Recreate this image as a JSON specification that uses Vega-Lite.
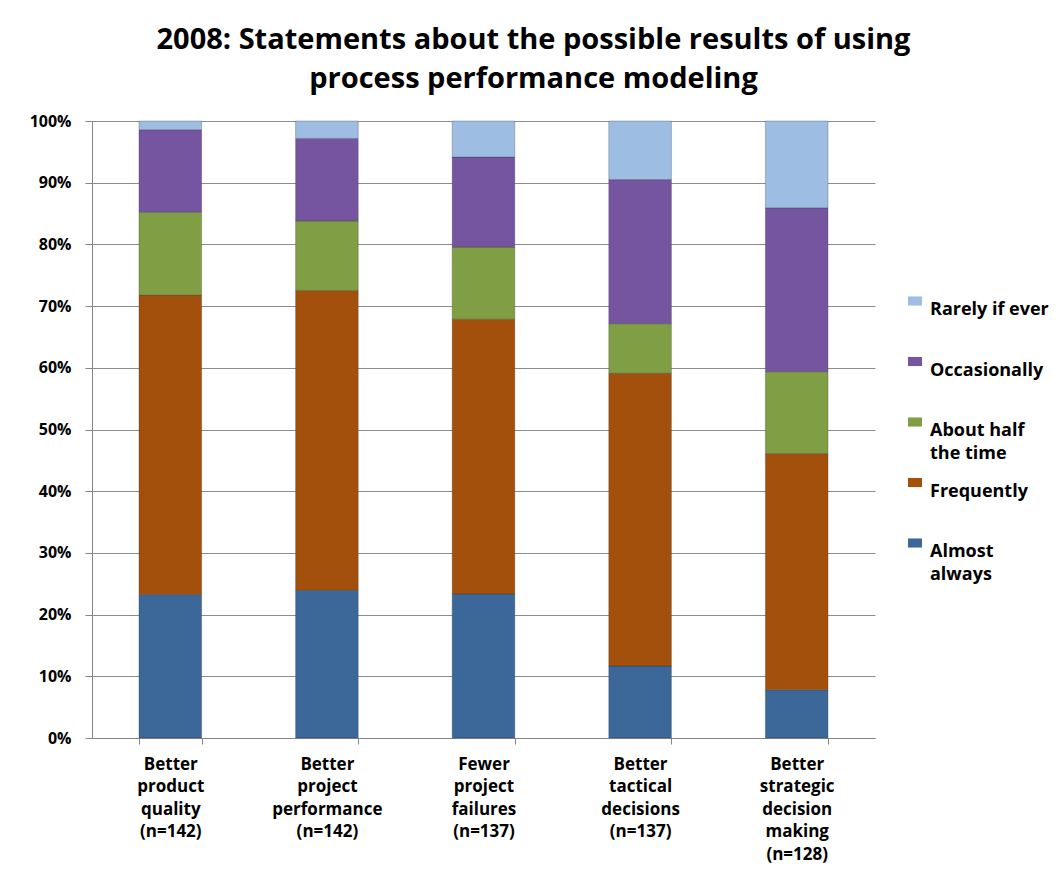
{
  "$schema": "https://vega.github.io/schema/vega-lite/v6.json",
  "width": 783,
  "height": 617,
  "autosize": {"type": "none"},
  "padding": {"left": 92, "top": 121, "right": 189, "bottom": 144},
  "background": "white",
  "title": {
    "text": ["2008: Statements about the possible results of using", "process performance modeling"],
    "font": "Open Sans",
    "fontSize": 29,
    "fontWeight": "bold",
    "color": "#000000",
    "anchor": "middle",
    "frame": "group",
    "dx": 50,
    "offset": 19,
    "lineHeight": 39
  },
  "data": {
    "values": [
      {"statement": "Better|product|quality|(n=142)", "response": "Almost always", "count": 33},
      {"statement": "Better|product|quality|(n=142)", "response": "Frequently", "count": 69},
      {"statement": "Better|product|quality|(n=142)", "response": "About half the time", "count": 19},
      {"statement": "Better|product|quality|(n=142)", "response": "Occasionally", "count": 19},
      {"statement": "Better|product|quality|(n=142)", "response": "Rarely if ever", "count": 2},
      {"statement": "Better|project|performance|(n=142)", "response": "Almost always", "count": 34},
      {"statement": "Better|project|performance|(n=142)", "response": "Frequently", "count": 69},
      {"statement": "Better|project|performance|(n=142)", "response": "About half the time", "count": 16},
      {"statement": "Better|project|performance|(n=142)", "response": "Occasionally", "count": 19},
      {"statement": "Better|project|performance|(n=142)", "response": "Rarely if ever", "count": 4},
      {"statement": "Fewer|project|failures|(n=137)", "response": "Almost always", "count": 32},
      {"statement": "Fewer|project|failures|(n=137)", "response": "Frequently", "count": 61},
      {"statement": "Fewer|project|failures|(n=137)", "response": "About half the time", "count": 16},
      {"statement": "Fewer|project|failures|(n=137)", "response": "Occasionally", "count": 20},
      {"statement": "Fewer|project|failures|(n=137)", "response": "Rarely if ever", "count": 8},
      {"statement": "Better|tactical|decisions|(n=137)", "response": "Almost always", "count": 16},
      {"statement": "Better|tactical|decisions|(n=137)", "response": "Frequently", "count": 65},
      {"statement": "Better|tactical|decisions|(n=137)", "response": "About half the time", "count": 11},
      {"statement": "Better|tactical|decisions|(n=137)", "response": "Occasionally", "count": 32},
      {"statement": "Better|tactical|decisions|(n=137)", "response": "Rarely if ever", "count": 13},
      {"statement": "Better|strategic|decision|making|(n=128)", "response": "Almost always", "count": 10},
      {"statement": "Better|strategic|decision|making|(n=128)", "response": "Frequently", "count": 49},
      {"statement": "Better|strategic|decision|making|(n=128)", "response": "About half the time", "count": 17},
      {"statement": "Better|strategic|decision|making|(n=128)", "response": "Occasionally", "count": 34},
      {"statement": "Better|strategic|decision|making|(n=128)", "response": "Rarely if ever", "count": 18}
    ]
  },
  "transform": [
    {"calculate": "indexof(['Almost always', 'Frequently', 'About half the time', 'Occasionally', 'Rarely if ever'], datum.response)", "as": "stackRank"}
  ],
  "mark": {"type": "bar", "stroke": "#2b2b2b", "strokeWidth": 0.6, "strokeOpacity": 0.45},
  "encoding": {
    "x": {
      "field": "statement",
      "type": "nominal",
      "sort": null,
      "scale": {"paddingInner": 0.6, "paddingOuter": 0.3},
      "axis": {
        "title": null,
        "labelAngle": 0,
        "labelExpr": "datum.value ? split(datum.value, '|') : ''",
        "labelFont": "Open Sans",
        "labelFontSize": 17,
        "labelFontWeight": "bold",
        "labelColor": "#000000",
        "labelLineHeight": 22.5,
        "labelBaseline": "top",
        "labelPadding": 12,
        "tickBand": "extent",
        "tickSize": 6,
        "tickColor": "#868686",
        "domainColor": "#868686"
      }
    },
    "y": {
      "field": "count",
      "type": "quantitative",
      "stack": "normalize",
      "scale": {"domain": [0, 1], "nice": false},
      "axis": {
        "title": null,
        "values": [0, 0.1, 0.2, 0.3, 0.4, 0.5, 0.6, 0.7, 0.8, 0.9, 1],
        "format": ".0%",
        "labelFont": "Open Sans",
        "labelFontSize": 16,
        "labelFontWeight": "bold",
        "labelColor": "#000000",
        "labelPadding": 14,
        "tickSize": 7,
        "tickColor": "#868686",
        "domainColor": "#868686",
        "grid": true,
        "gridColor": "#8c8c8c",
        "gridWidth": 1
      }
    },
    "order": {"field": "stackRank", "type": "quantitative", "sort": "ascending"},
    "color": {
      "field": "response",
      "type": "nominal",
      "scale": {
        "domain": ["Almost always", "Frequently", "About half the time", "Occasionally", "Rarely if ever"],
        "range": ["#3c6899", "#a4500d", "#809e44", "#7555a0", "#9dbde2"]
      },
      "legend": {
        "title": null,
        "orient": "none",
        "legendX": 814,
        "legendY": 171,
        "values": ["Rarely if ever", "Occasionally", "About half the time", "Frequently", "Almost always"],
        "labelExpr": "datum.label == 'About half the time' ? ['About half', 'the time'] : datum.label == 'Almost always' ? ['Almost', 'always'] : datum.label",
        "labelFont": "Open Sans",
        "labelFontSize": 18,
        "labelFontWeight": "bold",
        "labelColor": "#000000",
        "labelBaseline": "top",
        "labelOffset": 6,
        "symbolType": "M -1 -0.65 H 1 V 0.65 H -1 Z",
        "symbolSize": 196,
        "symbolStrokeWidth": 0,
        "gridAlign": "all",
        "rowPadding": 10.5
      }
    }
  },
  "config": {
    "view": {"stroke": null},
    "style": {"guide-label": {"lineHeight": 22.5}}
  }
}
